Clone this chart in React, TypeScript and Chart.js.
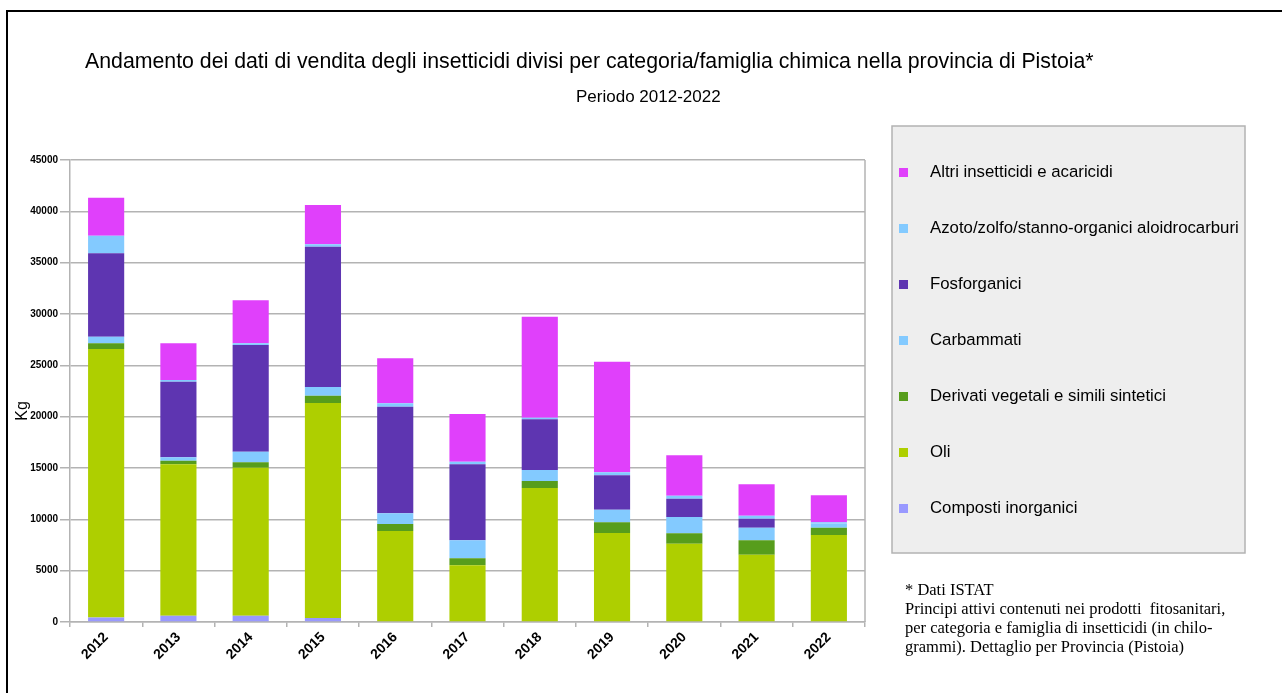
import React, { useEffect, useRef } from 'react';
import { Chart, registerables } from 'chart.js';

Chart.register(...registerables);

// ---- data ----
const years = ['2012', '2013', '2014', '2015', '2016', '2017', '2018', '2019', '2020', '2021', '2022'];
const composti = [450, 600, 600, 400, 0, 80, 0, 0, 0, 0, 0];
const oli = [26140, 14760, 14430, 20930, 8860, 5440, 13050, 8670, 7630, 6560, 8470];
const derivati = [550, 350, 520, 710, 690, 680, 680, 1040, 1010, 1400, 720];
const carbammati = [650, 330, 1040, 850, 1040, 1760, 1070, 1230, 1590, 1230, 400];
const fosforganici = [8120, 7370, 10390, 13670, 10380, 7400, 4940, 3350, 1780, 870, 0];
const azoto = [1720, 160, 160, 230, 330, 250, 160, 290, 290, 300, 120];
const altri = [3700, 3570, 4190, 3830, 4380, 4650, 9840, 10770, 3930, 3050, 2630];

const seriesLabels = [
  'Composti inorganici',
  'Oli',
  'Derivati vegetali e simili sintetici',
  'Carbammati',
  'Fosforganici',
  'Azoto/zolfo/stanno-organici aloidrocarburi',
  'Altri insetticidi e acaricidi',
];
const seriesColors = ['#9999ff', '#aecf00', '#579d1c', '#83caff', '#5e35b1', '#83caff', '#e040fb'];
const seriesData = [composti, oli, derivati, carbammati, fosforganici, azoto, altri];

const titleText =
  'Andamento dei dati di vendita degli insetticidi divisi per categoria/famiglia chimica nella provincia di Pistoia*';
const subtitleText = 'Periodo 2012-2022';
const yAxisTitle = 'Kg';
const noteLines = [
  '* Dati ISTAT',
  'Principi attivi contenuti nei prodotti  fitosanitari,',
  'per categoria e famiglia di insetticidi (in chilo-',
  'grammi). Dettaglio per Provincia (Pistoia)',
];

const SANS = "'Liberation Sans', Arial, sans-serif";
const SERIF = "'Liberation Serif', 'Times New Roman', serif";
const GRID = '#b3b3b3';

const decorPlugin = {
  id: 'decor',
  afterDraw(chart: any) {
    const ctx: CanvasRenderingContext2D = chart.ctx;
    const area = chart.chartArea;
    ctx.save();

    // outer frame
    ctx.strokeStyle = '#000';
    ctx.lineWidth = 2;
    ctx.beginPath();
    ctx.moveTo(7, 693);
    ctx.lineTo(7, 11);
    ctx.lineTo(1282, 11);
    ctx.stroke();

    // right border of plot
    ctx.strokeStyle = GRID;
    ctx.lineWidth = 1.5;
    ctx.beginPath();
    ctx.moveTo(area.right, area.top);
    ctx.lineTo(area.right, area.bottom);
    ctx.stroke();

    // title + subtitle
    ctx.fillStyle = '#000';
    ctx.textAlign = 'left';
    ctx.textBaseline = 'alphabetic';
    ctx.font = `21.3px ${SANS}`;
    ctx.fillText(titleText, 85, 68);
    ctx.font = `17px ${SANS}`;
    ctx.fillText(subtitleText, 576, 102);

    // y-axis title
    ctx.save();
    ctx.translate(23, 411);
    ctx.rotate(-Math.PI / 2);
    ctx.textAlign = 'center';
    ctx.textBaseline = 'middle';
    ctx.font = `16px ${SANS}`;
    ctx.fillText(yAxisTitle, 0, 0);
    ctx.restore();

    // legend box
    ctx.fillStyle = '#eeeeee';
    ctx.fillRect(892, 126, 353, 427);
    ctx.strokeStyle = GRID;
    ctx.lineWidth = 1.5;
    ctx.strokeRect(892, 126, 353, 427);

    const ds = chart.data.datasets.slice().reverse();
    ctx.font = `16.8px ${SANS}`;
    ctx.textAlign = 'left';
    ctx.textBaseline = 'alphabetic';
    ds.forEach((d: any, i: number) => {
      const cy = 172 + i * 56;
      ctx.fillStyle = d.backgroundColor;
      ctx.fillRect(899, cy - 4, 9, 9);
      ctx.fillStyle = '#000';
      ctx.fillText(d.label, 930, cy + 5);
    });

    // note
    ctx.font = `16.5px ${SERIF}`;
    ctx.fillStyle = '#000';
    noteLines.forEach((l, i) => ctx.fillText(l, 905, 595 + i * 19));

    ctx.restore();
  },
};

export default function App() {
  const ref = useRef<HTMLCanvasElement>(null);

  useEffect(() => {
    const canvas = ref.current;
    if (!canvas) return;
    const chart = new Chart(canvas, {
      type: 'bar',
      data: {
        labels: years,
        datasets: seriesLabels.map((label, i) => ({
          label,
          data: seriesData[i],
          backgroundColor: seriesColors[i],
          borderWidth: 0,
          barPercentage: 0.5,
          categoryPercentage: 1,
        })),
      },
      options: {
        animation: false,
        responsive: false,
        devicePixelRatio: 1,
        layout: { padding: { top: 160, right: 417, left: 0, bottom: 0 } },
        plugins: {
          legend: { display: false },
          tooltip: { enabled: false },
          title: { display: false },
        },
        scales: {
          x: {
            stacked: true,
            afterFit: (s: any) => {
              s.height = 71;
            },
            grid: {
              display: true,
              drawOnChartArea: false,
              drawTicks: true,
              tickLength: 5,
              color: GRID,
              lineWidth: 1.5,
              offset: true,
            },
            border: { display: true, color: GRID, width: 1.5 },
            ticks: {
              color: '#000',
              font: { family: SANS, size: 14, weight: 'bold' },
              minRotation: 45,
              maxRotation: 45,
              padding: 2,
            },
          },
          y: {
            stacked: true,
            min: 0,
            max: 45000,
            afterFit: (s: any) => {
              s.width = 70;
            },
            grid: { color: GRID, lineWidth: 1.5, tickLength: 10 },
            border: { display: true, color: GRID, width: 1.5 },
            ticks: {
              stepSize: 5000,
              color: '#000',
              font: { family: SANS, size: 10, weight: 'bold' },
              padding: 2,
              callback: (v: any) => String(v),
            },
          },
        },
      },
      plugins: [decorPlugin],
    });
    return () => chart.destroy();
  }, []);

  return (
    <div style={{ position: 'fixed', left: 0, top: 0, width: 1282, height: 693, background: '#fff' }}>
      <canvas ref={ref} width={1282} height={693} style={{ display: 'block', width: 1282, height: 693 }} />
    </div>
  );
}
